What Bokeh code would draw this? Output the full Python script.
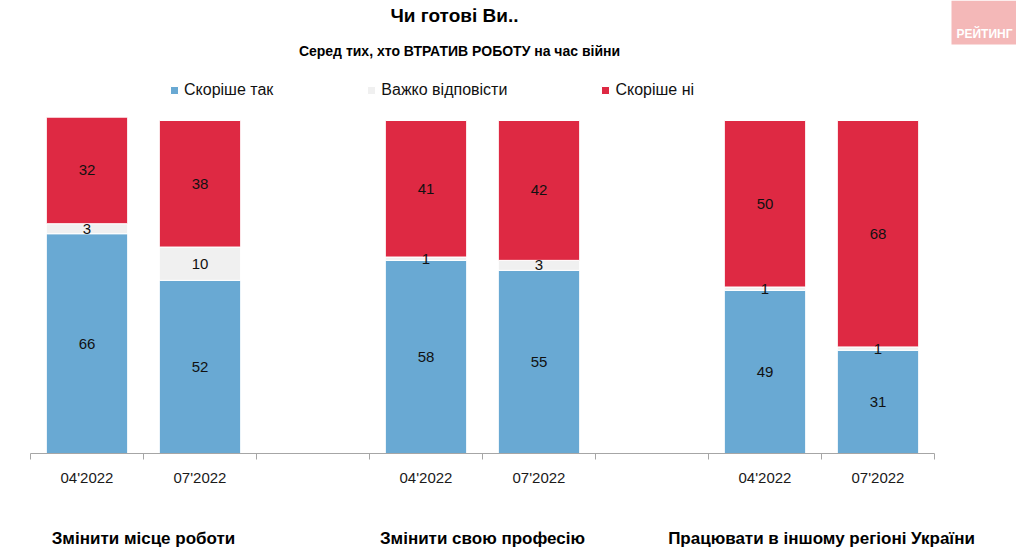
from bokeh.plotting import figure
from bokeh.models import (ColumnDataSource, Range1d, FixedTicker, Legend, LegendItem,
                          Label, BoxAnnotation, LinearAxis)
from bokeh.core.properties import value
from bokeh.embed import file_html
from bokeh.resources import INLINE

# ---- data ----
groups = ["Змінити місце роботи", "Змінити свою професію", "Працювати в іншому регіоні України"]
periods = ["04'2022", "07'2022"]
series = ["Скоріше так", "Важко відповісти", "Скоріше ні"]
yes = [66, 52, 58, 55, 49, 31]
hard = [3, 10, 1, 3, 1, 1]
no = [32, 38, 41, 42, 50, 68]
colors = ["#69A9D3", "#F0F0F0", "#DE2943"]

FONT = "Liberation Sans"
W, H = 1016, 552
BASE = 453          # pixel row of the baseline
PX_X = 113.0        # pixels per slot
PX_Y = 3.33         # pixels per percent
LEFT = 30           # pixel column of slot 0

def X(px):
    return (px - LEFT) / PX_X

def Y(py):
    return (BASE - py) / PX_Y

# slot positions: each group takes 3 slots (2 periods + 1 gap)
xs, labels = [], []
for g in range(len(groups)):
    for k, per in enumerate(periods):
        xs.append(g * 3 + k + 0.5)
        labels.append(per)
n_slots = len(groups) * 3 - 1

src = ColumnDataSource(dict(x=xs, yes=yes, hard=hard, no=no))

p = figure(width=W, height=H, output_backend="svg", toolbar_location=None,
           x_range=Range1d(X(0), X(W)), y_range=Range1d(0, Y(0)),
           min_border_left=0, min_border_right=0, min_border_top=0,
           min_border_bottom=H - BASE)
p.outline_line_color = None
p.xgrid.grid_line_color = None
p.ygrid.grid_line_color = None
p.yaxis.visible = False

rs = p.vbar_stack(["yes", "hard", "no"], x="x", width=0.72, color=colors,
                  line_color="white", line_width=1, source=src)

# value labels
tx, ty, tt = [], [], []
for i in range(len(xs)):
    base = 0
    for v in (yes[i], hard[i], no[i]):
        tx.append(xs[i]); ty.append(base + v / 2.0); tt.append(str(v))
        base += v
p.text(x=tx, y=ty, text=tt, text_align="center", text_baseline="middle",
       text_font=value(FONT), text_font_size="15px", text_color="#111111")

# period axis
ax = p.xaxis[0]
ax.bounds = (0, n_slots)
ax.ticker = FixedTicker(ticks=xs, minor_ticks=list(range(0, n_slots + 1)))
ax.major_label_overrides = {x: l for x, l in zip(xs, labels)}
ax.major_tick_line_color = None
ax.minor_tick_line_color = "#A6A6A6"
ax.minor_tick_out = 6
ax.minor_tick_in = 0
ax.axis_line_color = "#A6A6A6"
ax.major_label_text_font = FONT
ax.major_label_text_font_size = "15px"
ax.major_label_text_color = "#1a1a1a"
ax.major_label_standoff = 9

# group axis
gx = [g * 3 + 1 for g in range(len(groups))]
ax2 = LinearAxis(ticker=FixedTicker(ticks=gx),
                 major_label_overrides={x: n for x, n in zip(gx, groups)},
                 axis_line_color=None, major_tick_line_color=None,
                 minor_tick_line_color=None, major_label_standoff=34,
                 major_label_text_font=FONT, major_label_text_font_size="17px",
                 major_label_text_font_style="bold", major_label_text_color="#000000")
p.add_layout(ax2, "below")

# titles
p.add_layout(Label(x=X(454), y=Y(15), text="Чи готові Ви..", text_align="center",
                   text_baseline="middle", text_font=FONT, text_font_size="19px",
                   text_font_style="bold", text_color="#000000"))
p.add_layout(Label(x=X(459), y=Y(50), text="Серед тих, хто ВТРАТИВ РОБОТУ на час війни",
                   text_align="center", text_baseline="middle", text_font=FONT,
                   text_font_size="14px", text_font_style="bold", text_color="#000000"))

# logo
p.add_layout(BoxAnnotation(left=X(951), right=X(1016), top=Y(0), bottom=Y(44),
                           fill_color="#F4B8B8", fill_alpha=1, line_color=None))
p.add_layout(Label(x=X(984), y=Y(33), text="РЕЙТИНГ", text_align="center",
                   text_baseline="middle", text_font=FONT, text_font_size="12px",
                   text_font_style="bold", text_color="#ffffff"))

# legend
legend = Legend(items=[LegendItem(label=s, renderers=[r]) for s, r in zip(series, rs)],
                orientation="horizontal", location=(169, BASE - 99), spacing=93, padding=0,
                margin=0, border_line_color=None, background_fill_alpha=0,
                label_text_font=FONT, label_text_font_size="16px", label_text_color="#111111",
                glyph_width=10, glyph_height=10, label_standoff=5, label_height=18)
p.add_layout(legend)

open("out.html", "w").write(file_html(p, INLINE))
